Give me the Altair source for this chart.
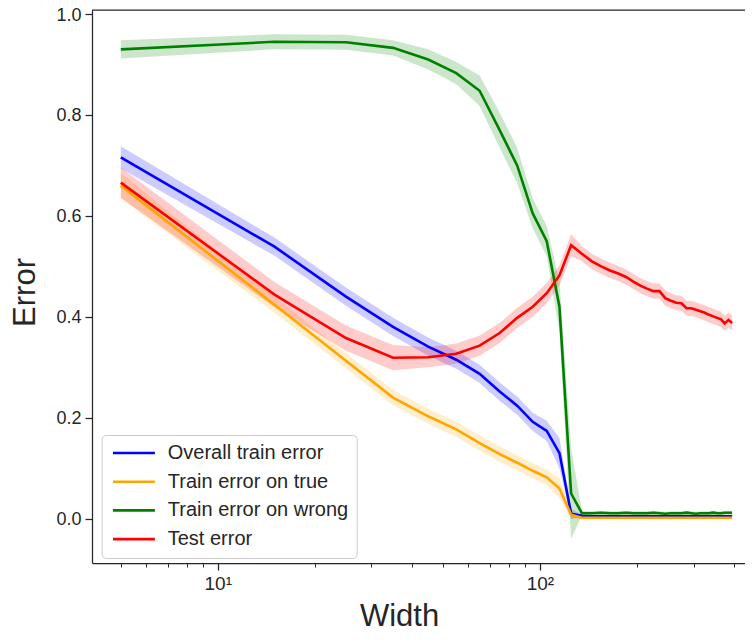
import altair as alt
import pandas as pd

# ---------------- data ----------------
widths = [5, 15, 25, 35, 45, 55, 65, 75, 85, 95,
          105, 115, 125, 135, 145, 155, 165, 175, 185, 195,
          205, 215, 225, 235, 245, 255, 265, 275, 285, 295,
          305, 315, 325, 335, 345, 355, 365, 375, 385, 395]

series_names = ["Overall train error", "Train error on true",
                "Train error on wrong", "Test error"]
series_colors = ["#0000ff", "#ffa500", "#008000", "#ff0000"]

overall_mean = [0.716, 0.539, 0.440, 0.380, 0.341, 0.315, 0.287, 0.252, 0.224, 0.192,
                0.174, 0.130, 0.010, 0.006, 0.005, 0.005, 0.005, 0.005, 0.005, 0.005,
                0.005, 0.005, 0.005, 0.005, 0.005, 0.005, 0.005, 0.005, 0.005, 0.005,
                0.005, 0.005, 0.005, 0.005, 0.005, 0.005, 0.005, 0.005, 0.005, 0.005]
overall_std = [0.022, 0.018, 0.018, 0.018, 0.018, 0.018, 0.018, 0.018, 0.018, 0.018,
               0.020, 0.030, 0.010, 0.002, 0.002, 0.002, 0.002, 0.002, 0.002, 0.002,
               0.002, 0.002, 0.002, 0.002, 0.002, 0.002, 0.002, 0.002, 0.002, 0.002,
               0.002, 0.002, 0.002, 0.002, 0.002, 0.002, 0.002, 0.002, 0.002, 0.002]

true_mean = [0.660, 0.424, 0.313, 0.240, 0.203, 0.177, 0.150, 0.128, 0.111, 0.095,
             0.082, 0.060, 0.008, 0.002, 0.002, 0.002, 0.002, 0.002, 0.002, 0.002,
             0.002, 0.002, 0.002, 0.002, 0.002, 0.002, 0.002, 0.002, 0.002, 0.002,
             0.002, 0.002, 0.002, 0.002, 0.002, 0.002, 0.002, 0.002, 0.002, 0.002]
true_std = [0.025, 0.016, 0.015, 0.015, 0.015, 0.015, 0.015, 0.015, 0.015, 0.015,
            0.015, 0.020, 0.008, 0.003, 0.003, 0.003, 0.003, 0.003, 0.003, 0.003,
            0.003, 0.003, 0.003, 0.003, 0.003, 0.003, 0.003, 0.003, 0.003, 0.003,
            0.003, 0.003, 0.003, 0.003, 0.003, 0.003, 0.003, 0.003, 0.003, 0.003]

wrong_mean = [0.930, 0.945, 0.944, 0.933, 0.910, 0.883, 0.848, 0.770, 0.700, 0.605,
              0.550, 0.420, 0.050, 0.011, 0.011, 0.012, 0.011, 0.011, 0.012, 0.011,
              0.011, 0.011, 0.012, 0.011, 0.010, 0.011, 0.011, 0.011, 0.012, 0.011,
              0.010, 0.011, 0.011, 0.011, 0.012, 0.011, 0.011, 0.012, 0.012, 0.012]
wrong_std = [0.018, 0.015, 0.015, 0.015, 0.020, 0.022, 0.030, 0.035, 0.035, 0.030,
             0.030, 0.050, 0.090, 0.005, 0.004, 0.004, 0.004, 0.004, 0.004, 0.004,
             0.004, 0.004, 0.004, 0.004, 0.004, 0.004, 0.004, 0.004, 0.004, 0.004,
             0.004, 0.004, 0.004, 0.004, 0.004, 0.004, 0.004, 0.004, 0.004, 0.004]

test_mean = [0.666, 0.444, 0.358, 0.319, 0.320, 0.327, 0.343, 0.368, 0.398, 0.420,
             0.447, 0.482, 0.542, 0.525, 0.510, 0.500, 0.492, 0.486, 0.479, 0.470,
             0.462, 0.456, 0.451, 0.451, 0.437, 0.432, 0.428, 0.427, 0.417, 0.417,
             0.414, 0.411, 0.408, 0.404, 0.401, 0.398, 0.395, 0.387, 0.394, 0.388]
test_std = [0.030, 0.025, 0.025, 0.025, 0.020, 0.020, 0.020, 0.020, 0.020, 0.020,
            0.020, 0.020, 0.022, 0.015, 0.015, 0.015, 0.015, 0.015, 0.015, 0.015,
            0.015, 0.015, 0.015, 0.015, 0.015, 0.015, 0.015, 0.015, 0.015, 0.015,
            0.015, 0.015, 0.015, 0.015, 0.015, 0.015, 0.015, 0.015, 0.015, 0.015]

x_major_ticks = [10, 100]
x_minor_ticks = [5, 6, 7, 8, 9, 20, 30, 40, 50, 60, 70, 80, 90, 200, 300, 400]
y_ticks = [0.0, 0.2, 0.4, 0.6, 0.8, 1.0]

# ---------------- table ----------------
rows = []
for name, means, stds in zip(series_names,
                             [overall_mean, true_mean, wrong_mean, test_mean],
                             [overall_std, true_std, wrong_std, test_std]):
    for w, m, s in zip(widths, means, stds):
        rows.append({"width": w, "series": name, "mean": m, "std": s})
df = pd.DataFrame(rows)

INK = "#262626"
FONT = "Liberation Sans"
W, H = 653, 553

xscale = alt.Scale(type="log", domain=[4.07, 433.2], nice=False)
yscale = alt.Scale(domain=[-0.0877, 1.008], nice=False, zero=False)
cscale = alt.Scale(domain=series_names, range=series_colors)

y_axis = alt.Axis(values=y_ticks, format=".1f", title="Error", grid=False,
                  labelFont=FONT, labelFontSize=18, labelColor=INK, labelPadding=4,
                  labelOffset=1,
                  tickSize=7, tickWidth=1.25, tickColor=INK,
                  domainColor=INK, domainWidth=1.25,
                  titleFont=FONT, titleFontSize=31, titleFontWeight="normal",
                  titleColor=INK, titleX=-58, titleY=282, titleAngle=-90,
                  titleBaseline="alphabetic", titleAlign="center")

x_axis_major = alt.Axis(values=x_major_ticks, orient="bottom", grid=False,
                        labelExpr="datum.value == 10 ? '10\u00b9' : '10\u00b2'",
                        labelFont=FONT, labelFontSize=19, labelColor=INK, labelPadding=4,
                        tickSize=7, tickWidth=1.25, tickColor=INK,
                        domainColor=INK, domainWidth=1.25,
                        title="Width", titleFont=FONT, titleFontSize=31,
                        titleFontWeight="normal", titleColor=INK,
                        titleX=307, titleY=62, titleBaseline="alphabetic",
                        titleAlign="center")

x_axis_minor = alt.Axis(values=x_minor_ticks, orient="bottom", grid=False,
                        labels=False, domain=False, title=None,
                        tickSize=4, tickWidth=1, tickColor=INK)

base = alt.Chart(df)

bands = base.transform_calculate(
    lo="datum.mean - datum.std", hi="datum.mean + datum.std"
).mark_area(opacity=0.2).encode(
    x=alt.X("width:Q", scale=xscale, axis=x_axis_major),
    y=alt.Y("lo:Q", scale=yscale, axis=y_axis),
    y2="hi:Q",
    color=alt.Color("series:N", scale=cscale, sort=series_names, legend=None),
)

lines = base.mark_line(strokeWidth=2.6).encode(
    x=alt.X("width:Q", scale=xscale, axis=x_axis_minor),
    y=alt.Y("mean:Q", scale=yscale, axis=y_axis),
    color=alt.Color("series:N", scale=cscale, sort=series_names,
                    legend=alt.Legend(title=None, orient="none",
                                      legendX=9.7, legendY=425,
                                      symbolType="M-4,0H4", symbolStrokeWidth=2.6,
                                      symbolSize=110, symbolOffset=14.25,
                                      labelFont=FONT, labelFontSize=20,
                                      labelColor=INK, labelOffset=23.8,
                                      labelLimit=400, rowPadding=8.7, padding=8,
                                      cornerRadius=4, strokeColor="#cccccc",
                                      fillColor="white")),
)

top_spine = alt.Chart(pd.DataFrame({"edge": [1.008]})).mark_rule(
    color=INK, strokeWidth=1.25
).encode(
    y=alt.value(0), x=alt.value(0), x2=alt.value(W + 1),
)

chart = alt.layer(bands, lines, top_spine).resolve_axis(
    x="independent"
).resolve_legend(color="independent").properties(
    width=W, height=H,
    autosize=alt.AutoSizeParams(type="none"),
    padding={"left": 84, "top": 2, "right": 0, "bottom": 66},
    background="white",
).configure_view(stroke=None)

chart.save("out.html", embed_options={"renderer": "svg", "actions": False})
